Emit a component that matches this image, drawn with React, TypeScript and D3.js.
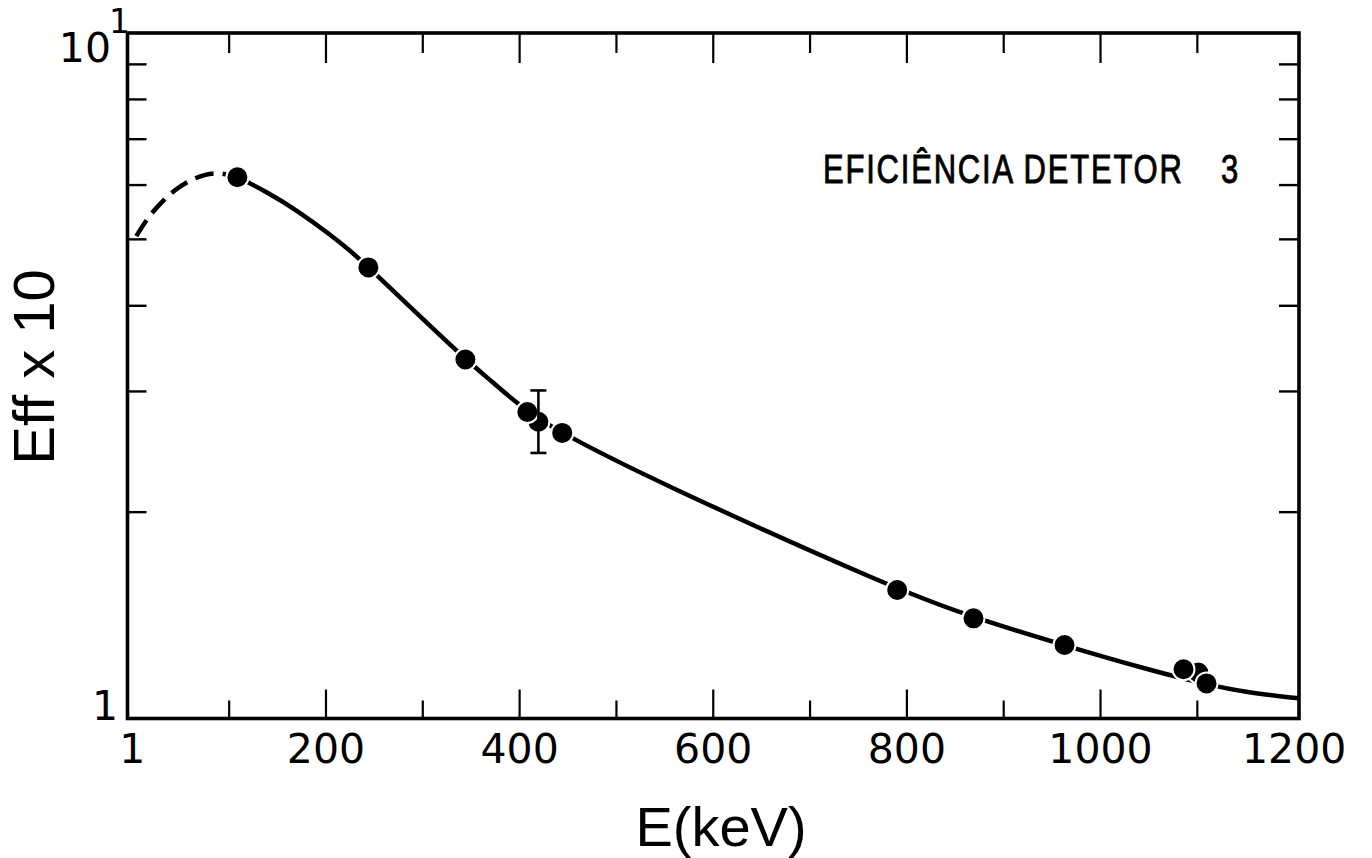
import React from "react";
import * as d3 from "d3";

// Measured efficiencies (Eff x 10) against gamma energy
const energyPoints = [108.5, 243.8, 344, 408, 444, 790, 868.8, 962.8, 1085.7, 1109.5];
const effPoints = [6.16, 4.55, 3.34, 2.8, 2.61, 1.54, 1.4, 1.28, 1.18, 1.125];

// Points that sit partly behind their neighbours
const hiddenEnergy = [419.4, 1101];
const hiddenEff = [2.71, 1.167];

// Error bar on the 419 keV point
const errEnergy = [419.4];
const errLow = [2.44];
const errHigh = [3.01];

// Fitted efficiency curve (solid)
const fitEnergy = [108.5, 139.5, 170.5, 204.5, 224.2, 243.8, 290.3, 344, 369.8, 408, 444.2, 532, 790.3, 868.8, 962.8, 1048.6, 1109.5, 1151.9, 1205];
const fitEff = [6.164, 5.858, 5.507, 5.08, 4.825, 4.555, 3.942, 3.343, 3.115, 2.797, 2.607, 2.247, 1.538, 1.404, 1.278, 1.179, 1.121, 1.091, 1.07];

// Low-energy extrapolation (dashed)
const extrapEnergy = [4.1, 15.5, 28.9, 44.4, 59.9, 75.4, 90.9, 108.5];
const extrapEff = [5.054, 5.37, 5.646, 5.92, 6.101, 6.226, 6.257, 6.164];

// Axis ticks
const xLabelValues = [0, 200, 400, 600, 800, 1000, 1200];
const xLabelText = ["1", "200", "400", "600", "800", "1000", "1200"];
const xMajorTicks = [200, 400, 600, 800, 1000];
const xMinorTicks = [100, 300, 500, 700, 900, 1100];
const yTicks = [2, 3, 4, 5, 6, 7, 8, 9];

const W = 1372;
const H = 858;
const left = 127.5;
const right = 1299;
const top = 33;
const bottom = 718.5;

export default function App() {
  const x = d3.scaleLinear().domain([-5, 1205]).range([left, right]);
  const y = d3.scaleLog().domain([1, 10]).range([bottom, top]);

  const line = d3
    .line<[number, number]>()
    .x((d) => x(d[0]))
    .y((d) => y(d[1]))
    .curve(d3.curveBasis);

  const fitPath = line(fitEnergy.map((e, i) => [e, fitEff[i]] as [number, number])) || "";
  const extrapPath = line(extrapEnergy.map((e, i) => [e, extrapEff[i]] as [number, number])) || "";

  const tickFont = "DejaVu Sans, sans-serif";
  const labelFont = "Liberation Sans, Arial, sans-serif";
  const r = 11;

  return (
    <svg
      width={W}
      height={H}
      viewBox={`0 0 ${W} ${H}`}
      style={{ position: "absolute", left: 0, top: 0, background: "#fff" }}
    >
      <rect x={0} y={0} width={W} height={H} fill="#fff" />

      {/* frame */}
      <rect
        x={left}
        y={top}
        width={right - left}
        height={bottom - top}
        fill="none"
        stroke="#000"
        strokeWidth={3.6}
      />

      {/* y ticks, left and right, pointing inward */}
      {yTicks.map((t) => (
        <g key={`y${t}`} stroke="#000" strokeWidth={2.4}>
          <line x1={left} x2={left + 19} y1={y(t)} y2={y(t)} />
          <line x1={right} x2={right - 20} y1={y(t)} y2={y(t)} />
        </g>
      ))}

      {/* x ticks, bottom and top */}
      {xMajorTicks.map((t) => (
        <g key={`xM${t}`} stroke="#000" strokeWidth={2.2}>
          <line x1={x(t)} x2={x(t)} y1={bottom} y2={bottom - 29} />
          <line x1={x(t)} x2={x(t)} y1={top} y2={top + 30} />
        </g>
      ))}
      {xMinorTicks.map((t) => (
        <g key={`xm${t}`} stroke="#000" strokeWidth={2.2}>
          <line x1={x(t)} x2={x(t)} y1={bottom} y2={bottom - 18} />
          <line x1={x(t)} x2={x(t)} y1={top} y2={top + 20} />
        </g>
      ))}

      {/* x tick labels */}
      {xLabelValues.map((v, i) => (
        <text
          key={`xl${v}`}
          x={x(v)}
          y={763}
          textAnchor="middle"
          fontFamily={tickFont}
          fontSize={41}
          fill="#000"
        >
          {xLabelText[i]}
        </text>
      ))}

      {/* y tick labels */}
      <text x={118} y={720} textAnchor="end" fontFamily={tickFont} fontSize={41} fill="#000">
        1
      </text>
      <text x={111} y={62} textAnchor="end" fontFamily={tickFont} fontSize={41} fill="#000">
        10
      </text>
      <text x={109} y={33} textAnchor="start" fontFamily={tickFont} fontSize={33} fill="#000">
        1
      </text>

      {/* axis titles */}
      <text
        transform="translate(54,367) rotate(-90)"
        textAnchor="middle"
        fontFamily={labelFont}
        fontSize={58}
        fill="#000"
      >
        Eff x 10
      </text>
      <text x={721} y={846} textAnchor="middle" fontFamily={labelFont} fontSize={56} fill="#000">
        E(keV)
      </text>

      {/* chart title */}
      <text
        transform="translate(823,183) scale(1,1.3)"
        fontFamily={labelFont}
        fontSize={31}
        letterSpacing={1.8}
        fill="#000"
        stroke="#000"
        strokeWidth={0.7}
      >
        EFICIÊNCIA DETETOR
      </text>
      <text
        transform="translate(1221,183) scale(1,1.3)"
        fontFamily={labelFont}
        fontSize={31}
        fill="#000"
        stroke="#000"
        strokeWidth={0.7}
      >
        3
      </text>

      {/* curves */}
      <path d={extrapPath} fill="none" stroke="#000" strokeWidth={4.5} strokeDasharray="19 9" />
      <path d={fitPath} fill="none" stroke="#000" strokeWidth={4.5} />

      {/* partly hidden points */}
      {hiddenEnergy.map((e, i) => (
        <circle key={`h${i}`} cx={x(e)} cy={y(hiddenEff[i])} r={r} fill="#000" stroke="#fff" strokeWidth={2} />
      ))}

      {/* measured points */}
      {energyPoints.map((e, i) => (
        <circle key={`p${i}`} cx={x(e)} cy={y(effPoints[i])} r={r} fill="#000" stroke="#fff" strokeWidth={2} />
      ))}

      {/* error bar */}
      {errEnergy.map((e, i) => (
        <g key={`e${i}`} stroke="#000" strokeWidth={2.6}>
          <line x1={x(e)} x2={x(e)} y1={y(errLow[i])} y2={y(errHigh[i])} />
          <line x1={x(e) - 8} x2={x(e) + 8} y1={y(errLow[i])} y2={y(errLow[i])} />
          <line x1={x(e) - 8} x2={x(e) + 8} y1={y(errHigh[i])} y2={y(errHigh[i])} />
        </g>
      ))}
    </svg>
  );
}
